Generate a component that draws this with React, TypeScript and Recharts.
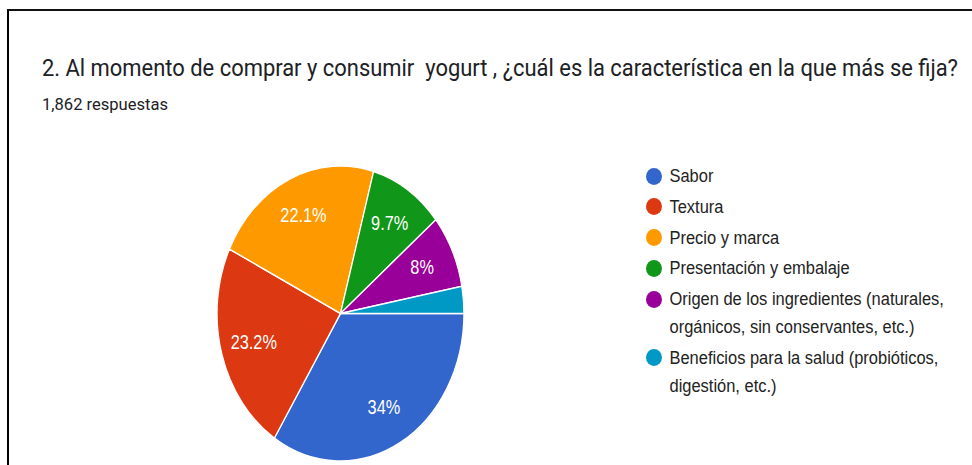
import React from 'react';
import { PieChart, Pie, Cell } from 'recharts';

const categories = [
  'Sabor',
  'Textura',
  'Precio y marca',
  'Presentación y embalaje',
  'Origen de los ingredientes (naturales, orgánicos, sin conservantes, etc.)',
  'Beneficios para la salud (probióticos, digestión, etc.)',
];
const responses = [633, 432, 412, 181, 149, 55];
const colors = ['#3366cc', '#dc3912', '#ff9900', '#109618', '#990099', '#0099c6'];
const titleText = '2. Al momento de comprar y consumir  yogurt , ¿cuál es la característica en la que más se fija?';
const subtitleText = '1,862 respuestas';

const data = categories.map((name, i) => ({ name, value: responses[i] }));
const total = responses.reduce((a, b) => a + b, 0);

const PIE_SX = 0.837;
const LEG_SX = 0.94;
const RAD = Math.PI / 180;

const renderLabel = (props: any) => {
  const { cx, cy, midAngle, outerRadius, value } = props;
  const pct = (value / total) * 100;
  if (pct < 5) return null;
  const r = outerRadius * 0.73;
  const x = cx + r * Math.cos(-midAngle * RAD);
  const y = cy + r * Math.sin(-midAngle * RAD);
  const txt = Math.abs(pct - Math.round(pct)) < 0.05 ? `${Math.round(pct)}%` : `${pct.toFixed(1)}%`;
  return (
    <text
      x={x}
      y={y}
      fill="#ffffff"
      textAnchor="middle"
      dominantBaseline="central"
      style={{ fontFamily: '"Liberation Sans", Arial, sans-serif', fontSize: 19.5 }}
    >
      {txt}
    </text>
  );
};

export default function App() {
  return (
    <div
      style={{
        position: 'absolute',
        left: 0,
        top: 0,
        width: 972,
        height: 465,
        overflow: 'hidden',
        background: '#ffffff',
      }}
    >
      <div
        style={{
          position: 'absolute',
          left: 7,
          top: 9,
          width: 972,
          height: 470,
          borderTop: '2px solid #111',
          borderLeft: '2px solid #000',
        }}
      />
      <svg width={972} height={130} style={{ position: 'absolute', left: 0, top: 0 }}>
        <text
          x={42}
          y={76}
          textLength={916}
          lengthAdjust="spacingAndGlyphs"
          fill="#202124"
          style={{ fontFamily: 'Roboto, sans-serif', fontSize: 24.5, whiteSpace: 'pre' }}
        >
          {titleText}
        </text>
        <text
          x={42}
          y={110}
          textLength={126}
          lengthAdjust="spacingAndGlyphs"
          fill="#202124"
          style={{ fontFamily: 'Roboto, sans-serif', fontSize: 17 }}
        >
          {subtitleText}
        </text>
      </svg>
      <div
        style={{
          position: 'absolute',
          left: 0,
          top: 0,
          width: 972 / PIE_SX,
          height: 465,
          transform: `scaleX(${PIE_SX})`,
          transformOrigin: '0 0',
        }}
      >
        <PieChart width={972 / PIE_SX} height={465} margin={{ top: 0, right: 0, bottom: 0, left: 0 }}>
          <Pie
            data={data}
            dataKey="value"
            nameKey="name"
            cx={340.5 / PIE_SX}
            cy={313.5}
            outerRadius={147.5}
            startAngle={0}
            endAngle={-360}
            stroke="#ffffff"
            strokeWidth={1.5}
            label={renderLabel}
            labelLine={false}
            isAnimationActive={false}
          >
            {data.map((d, i) => (
              <Cell key={d.name} fill={colors[i]} />
            ))}
          </Pie>
        </PieChart>
      </div>
      <div
        style={{
          position: 'absolute',
          left: 646,
          top: 162,
          width: 320,
          transform: `scaleX(${LEG_SX})`,
          transformOrigin: '0 0',
          fontFamily: '"Liberation Sans", Arial, sans-serif',
          fontSize: 17.5,
          lineHeight: '28px',
          color: '#222222',
        }}
      >
        {data.map((d, i) => (
          <div key={d.name} style={{ position: 'relative', paddingLeft: 25, marginBottom: 2.8, width: 300 }}>
            <span
              style={{
                position: 'absolute',
                left: 0,
                top: 5.5,
                width: 17,
                height: 17,
                borderRadius: '50%',
                background: colors[i],
              }}
            />
            {d.name}
          </div>
        ))}
      </div>
    </div>
  );
}
